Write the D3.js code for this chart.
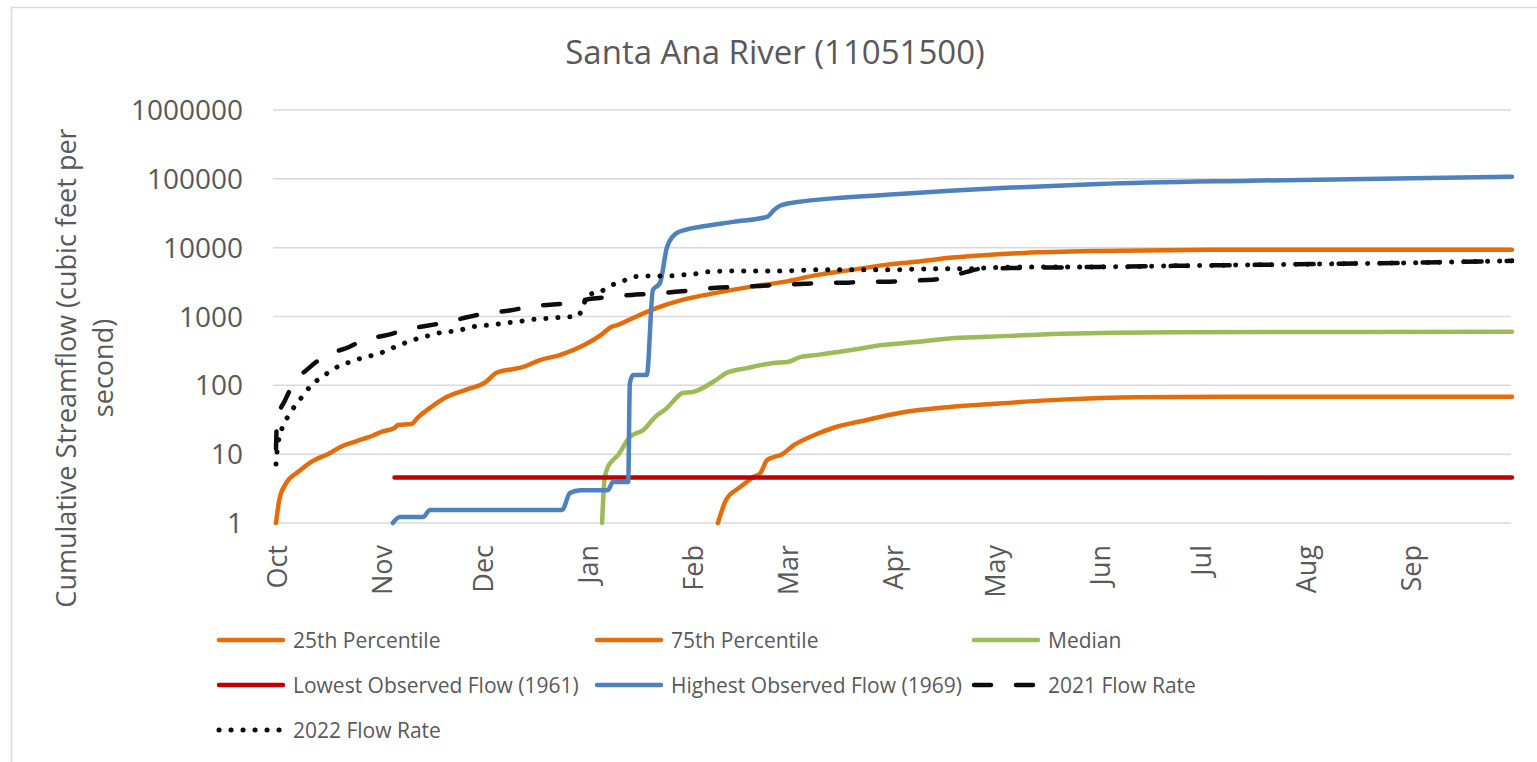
<!DOCTYPE html>
<html>
<head>
<meta charset="utf-8">
<script src="https://cdn.jsdelivr.net/npm/d3@7"></script>
<style>
  body { margin: 0; background: #fff; }
  text { font-family: "Open Sans", sans-serif; fill: #595959; }
</style>
</head>
<body>
<div id="app"></div>
<script>
const WIDTH = 1537
const HEIGHT = 762

// water year: day 0 = Oct 1
const months = ['Oct', 'Nov', 'Dec', 'Jan', 'Feb', 'Mar', 'Apr', 'May', 'Jun', 'Jul', 'Aug', 'Sep']
const monthStart = [0, 31, 61, 92, 123, 151, 182, 212, 243, 273, 304, 335]
const yTicks = [1, 10, 100, 1000, 10000, 100000, 1000000]

// [day, cumulative flow]
const p25 = [[130.5,1],[133,2.2],[137,3.3],[141,4.65],[143,5.3],[145,8.2],[147,9.1],[149,9.7],[153,13.6],[159,19],[164.5,24],[174.5,31.4],[184,39.7],[199,48.5],[210,53],[232,62],[254,67],[280,68],[365,68.5]]
const p75 = [[0,1],[1,2.2],[3,3.8],[6.5,5.5],[10,7.5],[16,10.4],[19,12.7],[23,15],[29,19],[31,21],[35,24],[36,26.6],[40,27.5],[42,34.6],[45.5,47],[50.5,68],[56,86],[62,112],[65,151],[73,185],[78,233],[84,277],[91,385],[96,540],[99,706],[101,755],[105.5,955],[112.5,1334],[120,1743],[130,2203],[140,2693],[150,3185],[160,4028],[170,4757],[180,5623],[189,6220],[199,7110],[221,8400],[243,8980],[276,9290],[365,9300]]
const median = [[96.3,1],[97,4.2],[98,6.5],[99,7.7],[101,9.7],[104.5,17.8],[108.5,22.5],[112,34.7],[115.5,47],[118.5,67.8],[120,77.6],[123,80],[130,120],[133,151],[139,178],[147,211],[151,218],[155,259],[160,277],[170,327],[179,385],[189,425],[199,480],[210,506],[232,560],[265,590],[365,600]]
const lowest = [[35,4.6],[365,4.6]]
const highest = [[34.5,1],[36.6,1.22],[43.4,1.22],[45.5,1.55],[84.5,1.55],[86.8,2.73],[89.8,3.0],[98,3.0],[99.5,3.94],[104,3.94],[104.5,108],[105.5,141],[109.5,141],[111.3,2430],[113.4,3080],[115.5,10300],[118.4,16400],[121,18200],[125,20000],[135,23700],[145,28000],[147,35000],[149,41000],[154,46000],[164.5,52000],[184,60000],[199,67000],[215.6,74000],[243,84000],[288,94000],[365,107000]]
const flow2021 = [[0,12],[0.3,31],[2.7,61],[5.3,108],[9.7,178],[14,259],[21.6,361],[26,457],[33,540],[38,640],[44.6,733],[50.5,829],[56.7,982],[62.6,1128],[69,1220],[75,1390],[81,1480],[87,1580],[93.6,1820],[98.6,1927],[105,2060],[111,2130],[118,2280],[124,2440],[130,2610],[136,2690],[143,2780],[148,2880],[156,2980],[161,3080],[168,3080],[172.5,3185],[180,3185],[186,3300],[194,3420],[198.5,3760],[204,4450],[208,4920],[221,5080],[243,5250],[265,5440],[288,5620],[310,5800],[332,6000],[365,6430]]
const flow2022 = [[0,7.2],[0.3,10.8],[1.8,24],[3.5,35],[5.3,48],[7.7,68],[10,95],[12.7,124],[15.7,156],[18.6,191],[22,219],[25.4,250],[29,277],[32.5,316],[35.7,373],[39,428],[42.5,489],[46,540],[49.6,597],[53.5,618],[56.7,684],[60,733],[64,755],[67.6,810],[71,829],[74.4,890],[78,923],[82,955],[85.4,982],[89,1000],[90.7,1390],[92,2060],[95.7,2280],[98.6,2780],[102,3185],[105.4,3760],[110,3890],[116,3890],[120,4030],[124,4170],[127,4450],[138,4600],[149,4600],[160,4760],[181,4760],[192,4920],[204,4920],[210,5080],[221,5250],[243,5250],[265,5440],[288,5620],[310,5800],[332,6000],[365,6430]]

const series = [
  { name: '25th Percentile', values: p25, color: '#E46C0A' },
  { name: '75th Percentile', values: p75, color: '#E46C0A' },
  { name: 'Median', values: median, color: '#9BBB59' },
  { name: 'Lowest Observed Flow (1961)', values: lowest, color: '#C00000' },
  { name: 'Highest Observed Flow (1969)', values: highest, color: '#4F81BD' },
  { name: '2021 Flow Rate', values: flow2021, color: '#0d0d0d', dash: '17,25', cap: 'round' },
  { name: '2022 Flow Rate', values: flow2022, color: '#0d0d0d', dash: '0.1,11.9', cap: 'round', width: 5 }
]

const x = d3.scaleLinear().domain([0, 365]).range([276, 1512])
const y = d3.scaleLog().domain([1, 1000000]).range([523, 110])

const svg = d3.select('#app').append('svg')
  .attr('width', WIDTH)
  .attr('height', HEIGHT)

// chart border
svg.append('rect')
  .attr('x', 11.5).attr('y', 7.5)
  .attr('width', 1560).attr('height', 800)
  .attr('fill', 'none')
  .attr('stroke', '#d9d9d9')
  .attr('stroke-width', 1.5)

svg.append('text')
  .attr('x', 775).attr('y', 64)
  .attr('text-anchor', 'middle')
  .style('font-size', '33px')
  .text('Santa Ana River (11051500)')

// gridlines + y labels
const yAxis = svg.append('g')
yAxis.selectAll('line')
  .data(yTicks)
  .enter()
.append('line')
  .attr('x1', 273).attr('x2', 1511)
  .attr('y1', d => y(d)).attr('y2', d => y(d))
  .attr('stroke', '#d9d9d9')
  .attr('stroke-width', 1.5)

yAxis.selectAll('text')
  .data(yTicks)
  .enter()
.append('text')
  .attr('x', 243)
  .attr('y', d => y(d))
  .attr('dy', '0.36em')
  .attr('text-anchor', 'end')
  .style('font-size', '28px')
  .text(d => d)

// month labels
svg.append('g').selectAll('text')
  .data(months)
  .enter()
.append('text')
  .attr('transform', (d, i) => `translate(${x(monthStart[i]) + 1}, 545) rotate(-90)`)
  .attr('dy', '0.36em')
  .attr('text-anchor', 'end')
  .style('font-size', '27px')
  .text(d => d)

// y title
const yTitle = svg.append('text')
  .attr('transform', 'translate(76, 368) rotate(-90)')
  .attr('text-anchor', 'middle')
  .style('font-size', '27px')
yTitle.append('tspan').attr('x', 0).attr('dy', 0).text('Cumulative Streamflow (cubic feet per')
yTitle.append('tspan').attr('x', 0).attr('dy', 37).text('second)')

const line = d3.line()
  .x(d => x(d[0]))
  .y(d => y(d[1]))
  .curve(d3.curveMonotoneX)

svg.append('g').selectAll('path')
  .data(series)
  .enter()
.append('path')
  .attr('d', d => line(d.values))
  .attr('fill', 'none')
  .attr('stroke', d => d.color)
  .attr('stroke-width', d => d.width || 4.5)
  .attr('stroke-dasharray', d => d.dash || null)
  .attr('stroke-linecap', d => d.cap || 'round')
  .attr('stroke-linejoin', 'round')

// legend, 3 columns
const legCols = [217, 595, 972]
const legRows = [640, 685, 730]
const legend = svg.append('g').selectAll('g')
  .data(series)
  .enter()
.append('g')
  .attr('transform', (d, i) => `translate(${legCols[i % 3]}, ${legRows[Math.floor(i / 3)]})`)

legend.append('line')
  .attr('x1', 2).attr('x2', 66)
  .attr('stroke', d => d.color)
  .attr('stroke-width', d => d.width || 4.5)
  .attr('stroke-dasharray', d => d.dash || null)
  .attr('stroke-linecap', 'round')

legend.append('text')
  .attr('x', 76)
  .attr('dy', '0.36em')
  .style('font-size', '21px')
  .text(d => d.name)
</script>
</body>
</html>
